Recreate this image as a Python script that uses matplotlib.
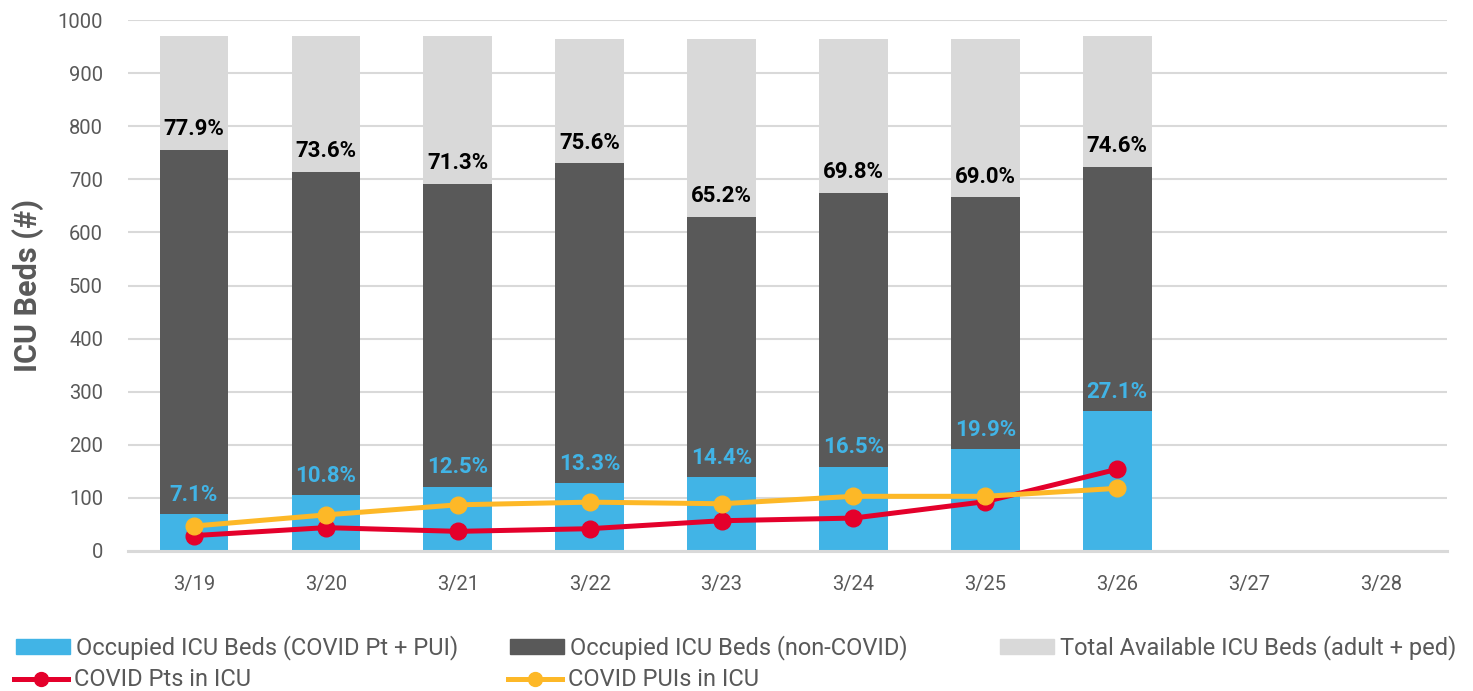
import matplotlib
matplotlib.use("Agg")
import matplotlib.pyplot as plt
import numpy as np
from matplotlib.patches import Patch
from matplotlib.lines import Line2D

categories = ["3/19", "3/20", "3/21", "3/22", "3/23", "3/24", "3/25", "3/26", "3/27", "3/28"]
total_beds = [970, 970, 970, 965, 965, 965, 965, 970]
occupied_total = [755, 714, 692, 730, 629, 674, 666, 724]
covid_occupied = [69, 105, 121, 128, 139, 159, 192, 263]
covid_pts = [29, 44, 37, 42, 57, 62, 93, 154]
covid_puis = [47, 68, 87, 92, 89, 103, 103, 118]
pct_occupied = ["77.9%", "73.6%", "71.3%", "75.6%", "65.2%", "69.8%", "69.0%", "74.6%"]
pct_covid = ["7.1%", "10.8%", "12.5%", "13.3%", "14.4%", "16.5%", "19.9%", "27.1%"]

C_BLUE = "#41B4E6"
C_DARK = "#595959"
C_LIGHT = "#D9D9D9"
C_RED = "#E4002B"
C_YEL = "#FDB827"
C_TXT = "#595959"

plt.rcParams['font.family'] = ['Roboto', 'DejaVu Sans']

W, H = 1473, 691
fig = plt.figure(figsize=(W / 100, H / 100), dpi=100)
ax = fig.add_axes([128 / W, (H - 551) / H, 1319 / W, 531 / H])

x = np.arange(len(categories))
n = len(total_beds)
xb = x[:n]
noncovid = [o - c for o, c in zip(occupied_total, covid_occupied)]
avail = [t - o for t, o in zip(total_beds, occupied_total)]
w = 0.52
ax.bar(xb, covid_occupied, w, color=C_BLUE, zorder=2)
ax.bar(xb, noncovid, w, bottom=covid_occupied, color=C_DARK, zorder=2)
ax.bar(xb, avail, w, bottom=occupied_total, color=C_LIGHT, zorder=2)

ax.plot(xb, covid_pts, color=C_RED, lw=3.6, marker='o', ms=12, zorder=3)
ax.plot(xb, covid_puis, color=C_YEL, lw=3.6, marker='o', ms=12, zorder=4)

for i in range(n):
    ax.annotate(pct_occupied[i], (xb[i], occupied_total[i]), xytext=(0, 7),
                textcoords='offset points', ha='center', va='bottom',
                fontsize=16, fontweight='bold', color='black', zorder=5)
    ax.annotate(pct_covid[i], (xb[i], covid_occupied[i]), xytext=(0, 6),
                textcoords='offset points', ha='center', va='bottom',
                fontsize=16, fontweight='bold', color=C_BLUE, zorder=5)

ax.set_xlim(-0.5, len(categories) - 0.5)
ax.set_ylim(0, 1000)
ax.set_yticks(range(0, 1001, 100))
ax.set_xticks(x)
ax.set_xticklabels(categories)
ax.tick_params(axis='both', length=0, labelsize=14.5, colors=C_TXT)
ax.tick_params(axis='x', pad=17)
ax.tick_params(axis='y', pad=18)
ax.grid(axis='y', color=C_LIGHT, lw=1.5, zorder=0)
ax.set_axisbelow(True)
for s in ['top', 'right', 'left']:
    ax.spines[s].set_visible(False)
ax.spines['bottom'].set_color(C_LIGHT)
ax.spines['bottom'].set_linewidth(2.2)
ax.set_ylabel("ICU Beds (#)", fontsize=22, fontweight='bold', color=C_TXT)
ax.yaxis.set_label_coords((44 - 128) / 1319, 0.5)

entries = [
    (Patch(color=C_BLUE), "Occupied ICU Beds (COVID Pt + PUI)", 16, 648),
    (Patch(color=C_DARK), "Occupied ICU Beds (non-COVID)", 510, 648),
    (Patch(color=C_LIGHT), "Total Available ICU Beds (adult + ped)", 1000, 648),
    (Line2D([], [], color=C_RED, lw=3.6, marker='o', ms=10), "COVID Pts in ICU", 14, 680),
    (Line2D([], [], color=C_YEL, lw=3.6, marker='o', ms=10), "COVID PUIs in ICU", 508, 680),
]
for h, lab, px, py in entries:
    leg = fig.legend(handles=[h], labels=[lab], loc='center left',
                     bbox_to_anchor=(px / W, (H - py) / H), frameon=False,
                     fontsize=17, handlelength=2.3, handleheight=0.6,
                     handletextpad=0.25, borderpad=0, borderaxespad=0)
    for t in leg.get_texts():
        t.set_color(C_TXT)

fig.savefig("out.png", dpi=100)
